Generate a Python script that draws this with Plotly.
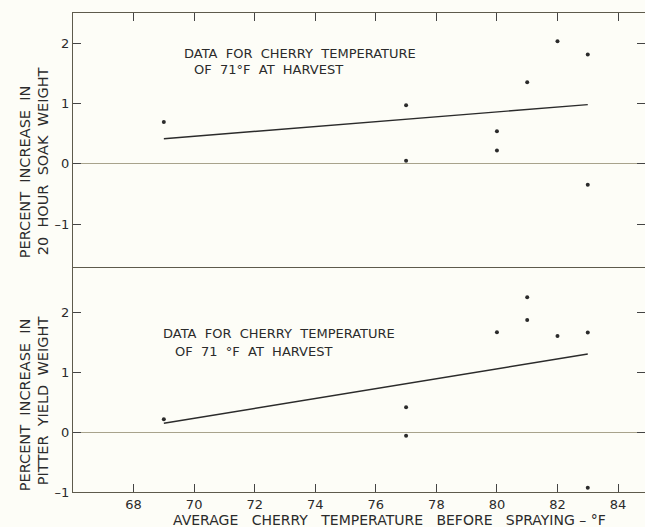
import plotly.graph_objects as go

# ---- data ----
soak_temps = [69, 77, 77, 80, 80, 81, 82, 83, 83]
soak_increase = [0.69, 0.97, 0.05, 0.54, 0.22, 1.35, 2.03, 1.81, -0.35]
soak_fit_x = [69, 83]
soak_fit_y = [0.415, 0.98]

pitter_temps = [69, 77, 77, 80, 81, 81, 82, 83, 83]
pitter_increase = [0.22, 0.42, -0.06, 1.675, 2.26, 1.88, 1.61, 1.67, -0.93]
pitter_fit_x = [69, 83]
pitter_fit_y = [0.15, 1.31]

x_ticks = [68, 70, 72, 74, 76, 78, 80, 82, 84]
y_ticks = [-1, 0, 1, 2]
y_tick_text = ["\u20131", "0", "1", "2"]

NB = "\u00a0"
def sp(s, n=2):
    return s.replace(" ", NB * n)

INK = "#2b2b2b"
FONT = dict(family="DejaVu Sans", size=13, color=INK)
BG = "#fdfdf7"

fig = go.Figure()
# top panel (soak)
fig.add_trace(go.Scatter(x=soak_temps, y=soak_increase, mode="markers",
                         marker=dict(size=4, color=INK), xaxis="x2", yaxis="y2",
                         showlegend=False))
fig.add_trace(go.Scatter(x=soak_fit_x, y=soak_fit_y, mode="lines",
                         line=dict(color=INK, width=1.4), xaxis="x2", yaxis="y2",
                         showlegend=False))
# bottom panel (pitter)
fig.add_trace(go.Scatter(x=pitter_temps, y=pitter_increase, mode="markers",
                         marker=dict(size=4, color=INK), xaxis="x", yaxis="y",
                         showlegend=False))
fig.add_trace(go.Scatter(x=pitter_fit_x, y=pitter_fit_y, mode="lines",
                         line=dict(color=INK, width=1.4), xaxis="x", yaxis="y",
                         showlegend=False))

axis_common = dict(showgrid=False, showline=True, linecolor="#5e5b4c", linewidth=1,
                   ticks="inside", ticklen=8, tickcolor="#444", tickwidth=1.2,
                   tickfont=FONT, automargin=False)
xr = [66, 84.89]
split = 0.4676

fig.update_layout(
    width=645, height=527,
    margin=dict(l=73, r=0, t=13, b=35),
    paper_bgcolor=BG, plot_bgcolor=BG,
    font=FONT,
    xaxis=dict(range=xr, tickvals=x_ticks, mirror=True, anchor="y",
               zeroline=False, **axis_common),
    yaxis=dict(range=[-1, 2.75], domain=[0, split], tickvals=y_ticks,
               ticktext=y_tick_text, mirror="ticks",
               zeroline=True, zerolinecolor="#a8a38c", zerolinewidth=1.2,
               **axis_common),
    xaxis2=dict(range=xr, tickvals=x_ticks, side="top", showticklabels=False,
                mirror=False, anchor="y2", matches="x", zeroline=False, **axis_common),
    yaxis2=dict(range=[-1.73, 2.5], domain=[split, 1], tickvals=y_ticks,
                ticktext=y_tick_text, mirror="ticks",
                anchor="x2",
                zeroline=True, zerolinecolor="#a8a38c", zerolinewidth=1.2,
                **axis_common),
)

def ann(text, x, y, xanchor="left", angle=0, size=13):
    fig.add_annotation(text=text, x=x, y=y, xref="paper", yref="paper",
                       xanchor=xanchor, yanchor="middle", showarrow=False,
                       textangle=angle, font=dict(FONT, size=size))

# panel notes
ann(sp("DATA FOR CHERRY TEMPERATURE"), 0.190, 0.915)
ann(sp("OF 71°F AT HARVEST"), 0.2075, 0.883)
ann(sp("DATA FOR CHERRY TEMPERATURE"), 0.1533, 0.3305)
ann(sp("OF 71 °F AT HARVEST"), 0.1743, 0.2935)

# y titles
ann(sp("PERCENT INCREASE IN"), -0.0839, 0.6676, "center", -90, 14.5)
ann(sp("20 HOUR SOAK WEIGHT"), -0.0524, 0.6906, "center", -90, 14.5)
ann(sp("PERCENT INCREASE IN"), -0.0839, 0.1812, "center", -90, 14.5)
ann(sp("PITTER YIELD WEIGHT"), -0.0524, 0.1896, "center", -90, 14.5)

# x title
ann(sp("AVERAGE CHERRY TEMPERATURE BEFORE SPRAYING", 3) + NB + "\u2013" + NB + "°F",
    0.554, -0.059, "center", 0, 14)

fig.write_html("out.html",
               config={"displayModeBar": False},
               post_script="document.body.style.margin='0';"
                           "document.body.style.overflow='hidden';")
